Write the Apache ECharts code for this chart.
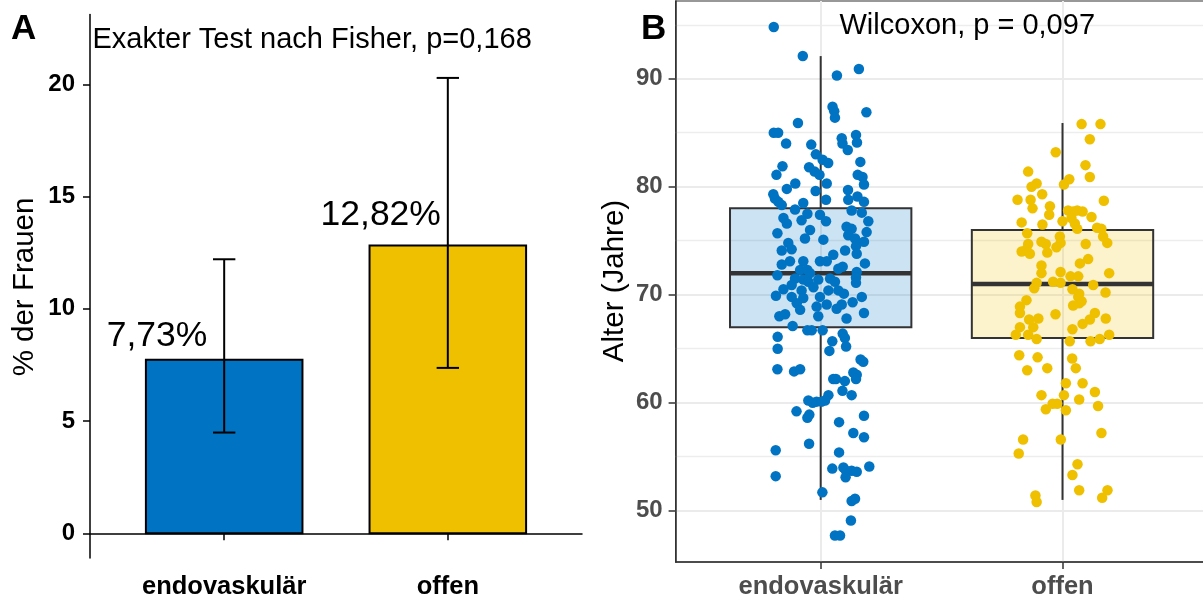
<!DOCTYPE html>
<html><head><meta charset="utf-8">
<script src="https://cdn.jsdelivr.net/npm/echarts@6/dist/echarts.min.js"></script>
<style>html,body{margin:0;padding:0;background:#fff}#c{width:1203px;height:595px}</style>
</head><body><div id="c"></div>
<script>
const categories = ['endovaskulär', 'offen'];
const femalePct = [7.73, 12.82];
const ciLow = [4.49, 7.37];
const ciHigh = [12.21, 20.29];
const pctTicks = [0, 5, 10, 15, 20];
const ageTicks = [50, 60, 70, 80, 90];
const ageMinorTicks = [45, 55, 65, 75, 85, 95];
// [lower whisker, Q1, median, Q3, upper whisker]
const boxStats = [[51.0, 67, 72, 78, 92.1], [51.0, 66, 71, 76, 85.9]];
// [horizontal jitter, age]
const endoPoints = [
[-0.194,94.8],[-0.074,92.1],[0.158,90.9],[0.067,90.3],[0.049,87.4],[0.056,87.0],[0.059,86.4],[0.189,86.9],
[-0.094,85.9],[-0.194,85.0],[-0.176,85.0],[-0.143,84.0],[-0.039,83.9],[0.087,84.5],[0.09,84.0],[0.112,83.4],
[0.146,84.8],[0.15,84.1],[-0.02,83.0],[0.008,82.5],[0.031,82.2],[0.164,82.3],[-0.158,81.9],[-0.183,81.1],
[-0.048,81.8],[-0.025,81.4],[-0.005,81.1],[0.153,81.1],[0.173,80.9],[0.179,80.2],[-0.105,80.3],[-0.14,79.8],
[0.025,80.3],[-0.021,79.6],[0.113,79.7],[-0.196,79.3],[-0.189,78.9],[-0.175,78.6],[-0.161,78.3],[0.022,78.8],
[0.114,78.8],[0.152,79.1],[0.179,78.6],[-0.072,78.5],[-0.106,77.9],[-0.055,77.5],[-0.079,76.9],[-0.003,77.4],
[0.022,76.8],[-0.154,77.1],[-0.14,76.6],[0.128,77.8],[0.17,77.6],[0.197,76.8],[0.107,76.3],[0.128,76.1],
[0.19,75.8],[-0.179,75.7],[-0.044,76.0],[-0.065,75.2],[0.011,75.1],[0.114,75.5],[0.142,75.2],[0.179,74.9],
[-0.134,74.8],[-0.161,74.1],[-0.12,74.2],[0.146,74.5],[0.101,74.1],[0.149,73.8],[0.052,73.7],[-0.003,73.1],
[0.025,73.1],[-0.161,72.8],[-0.127,73.1],[-0.072,73.1],[0.183,72.9],[0.073,72.4],[0.091,72.6],[-0.085,72.3],
[-0.055,72.3],[-0.044,72.0],[-0.179,71.8],[0.149,72.1],[0.146,71.6],[-0.106,71.5],[-0.072,71.4],[-0.051,71.2],
[-0.01,71.4],[0.039,71.5],[0.059,71.2],[-0.12,70.9],[-0.154,70.5],[-0.079,70.4],[-0.03,70.7],[0.032,70.4],
[0.073,70.4],[0.146,71.1],[-0.185,69.9],[-0.12,69.8],[-0.072,69.7],[-0.003,69.8],[0.096,70.1],[0.17,69.8],
[-0.099,69.2],[-0.017,68.9],[0.025,69.1],[0.066,68.7],[0.087,69.1],[0.132,69.3],[-0.085,68.6],[-0.01,68.0],
[-0.171,68.0],[-0.147,68.2],[0.107,67.8],[0.179,68.3],[-0.116,67.1],[-0.178,66.1],[-0.178,65.0],[-0.055,66.7],
[-0.037,66.7],[0.008,66.7],[0.048,65.7],[0.036,64.8],[0.091,66.4],[0.1,66.0],[0.105,65.2],[0.165,64.0],
[0.176,63.8],[-0.179,63.1],[-0.11,62.9],[-0.085,63.1],[0.052,62.2],[0.063,62.2],[0.1,62.0],[0.135,62.8],
[0.149,62.6],[0.146,62.2],[0.09,61.1],[0.128,60.7],[0.032,60.7],[-0.051,60.2],[-0.033,60.0],[-0.017,60.1],
[0.004,60.1],[0.018,60.2],[-0.1,59.2],[-0.047,58.9],[-0.055,58.6],[0.076,58.2],[0.179,58.8],[0.135,57.2],
[0.179,56.8],[-0.048,56.2],[-0.186,55.6],[0.076,55.4],[0.201,54.1],[0.048,53.9],[0.094,54.0],[0.105,53.7],
[0.128,53.7],[0.149,53.6],[0.103,53.1],[-0.186,53.2],[0.007,51.7],[0.128,50.9],[0.142,51.1],[0.125,49.1],
[0.059,47.7],[0.08,47.7]
];
const offenPoints = [
[0.079,85.8],[0.157,85.8],[0.113,84.4],[-0.028,83.2],[-0.142,81.4],[0.095,82.0],[0.113,80.9],[-0.107,80.3],
[-0.128,80.0],[0.028,80.7],[0.006,80.2],[-0.186,78.8],[-0.132,78.8],[-0.124,78.0],[-0.084,79.3],[-0.052,78.2],
[-0.055,77.4],[0.171,78.7],[0.023,77.8],[0.044,77.7],[0.061,77.8],[0.083,77.7],[0.037,77.1],[0.051,76.6],
[0.061,76.1],[0.0,76.8],[0.12,77.2],[-0.169,76.7],[-0.083,76.5],[-0.146,75.7],[0.143,76.2],[0.161,76.1],
[0.168,75.4],[0.185,74.8],[-0.011,75.4],[0.096,74.7],[-0.087,74.9],[-0.069,74.7],[-0.142,74.7],[-0.169,74.0],
[-0.135,73.8],[-0.149,74.2],[-0.025,74.4],[-0.008,74.8],[-0.063,73.9],[0.106,73.3],[0.072,72.9],[-0.087,72.7],
[-0.087,72.0],[-0.008,72.1],[0.033,71.7],[0.065,71.7],[0.193,72.0],[-0.107,71.1],[-0.117,70.6],[-0.039,71.2],
[-0.008,71.1],[0.127,70.9],[0.041,70.5],[0.069,70.1],[0.178,70.2],[-0.149,69.5],[0.065,69.8],[0.079,69.4],
[-0.176,68.9],[-0.176,68.3],[0.044,69.0],[0.069,69.2],[-0.029,68.2],[-0.1,67.8],[-0.138,67.7],[0.134,68.3],
[0.113,67.7],[0.083,67.3],[0.179,67.8],[-0.176,67.0],[-0.121,67.0],[-0.193,66.3],[-0.142,66.3],[-0.107,65.9],
[0.041,66.8],[0.03,65.7],[0.116,65.7],[0.154,65.9],[0.193,66.3],[-0.179,64.4],[-0.103,64.2],[0.04,64.1],
[-0.146,63.0],[-0.063,63.2],[0.055,63.2],[0.014,61.8],[0.083,61.8],[-0.087,60.7],[0.006,60.7],[0.069,60.3],
[0.134,61.0],[-0.041,59.9],[-0.022,59.9],[-0.069,59.4],[0.014,59.3],[0.147,59.7],[0.161,57.2],[-0.163,56.6],
[-0.007,56.6],[-0.181,55.3],[0.062,54.3],[0.041,53.3],[0.069,51.9],[0.186,51.9],[0.164,51.2],[-0.112,51.4],
[-0.107,50.8]
];
const colors = ['#0073C2', '#EFC000'];
const boxFills = ['rgba(0,115,194,0.2)', 'rgba(239,192,0,0.2)'];
const FONT = '"Liberation Sans", Arial, Helvetica, sans-serif';

const chart = echarts.init(document.getElementById('c'), null, {renderer: 'canvas'});

function catLabel(v) { return categories[Math.round(v) - 1] || ''; }

const option = {
  animation: false,
  backgroundColor: '#ffffff',
  grid: [
    {left: 90, top: 14.4, width: 492, height: 543.6, show: false, containLabel: false, outerBoundsMode: 'none'},
    {left: 675.6, top: 1, width: 532, height: 561, show: true, borderColor: '#333333', borderWidth: 1.2, backgroundColor: 'transparent', containLabel: false, outerBoundsMode: 'none'}
  ],
  xAxis: [
    {gridIndex: 0, type: 'value', min: 0.4, max: 2.6,
     axisLine: {show: true, lineStyle: {color: '#000', width: 1.5}},
     axisTick: {show: true, customValues: [1, 2], length: 7, lineStyle: {color: '#000', width: 1.5}},
     axisLabel: {customValues: [1, 2], formatter: catLabel, color: '#000', fontWeight: 'bold', fontSize: 25.5, fontFamily: FONT, margin: 16},
     splitLine: {show: false}},
    {gridIndex: 1, type: 'value', min: 0.4, max: 2.6,
     axisLine: {show: true, lineStyle: {color: '#333', width: 1.5}},
     axisTick: {show: true, customValues: [1, 2], length: 7, lineStyle: {color: '#333', width: 1.5}},
     axisLabel: {customValues: [1, 2], formatter: catLabel, color: '#4D4D4D', fontWeight: 'bold', fontSize: 25.5, fontFamily: FONT, margin: 12},
     splitLine: {show: true, lineStyle: {color: '#EBEBEB', width: 2}}}
  ],
  yAxis: [
    {gridIndex: 0, type: 'value', min: -1.1, max: 23.12,
     axisLine: {show: true, lineStyle: {color: '#000', width: 1.5}},
     axisTick: {show: true, customValues: pctTicks, length: 7, lineStyle: {color: '#000', width: 1.5}},
     axisLabel: {customValues: pctTicks, color: '#000', fontWeight: 'bold', fontSize: 24, fontFamily: FONT, margin: 15},
     splitLine: {show: false}},
    {gridIndex: 1, type: 'value', min: 45.25, max: 97.2, position: 'left',
     axisLine: {show: true, lineStyle: {color: '#333', width: 1.5}},
     axisTick: {show: true, customValues: ageTicks, length: 7, lineStyle: {color: '#333', width: 1.5}},
     axisLabel: {customValues: ageTicks, color: '#4D4D4D', fontWeight: 'bold', fontSize: 24, fontFamily: FONT, margin: 13},
     splitLine: {show: true, lineStyle: {color: '#EBEBEB', width: 2}}},
    {gridIndex: 1, type: 'value', min: 45.25, max: 97.2, position: 'right',
     axisLine: {show: false}, axisTick: {show: false, customValues: ageMinorTicks},
     axisLabel: {show: false, customValues: ageMinorTicks},
     splitLine: {show: true, lineStyle: {color: '#EDEDED', width: 1.3}}}
  ],
  series: [
    {
      type: 'custom', xAxisIndex: 0, yAxisIndex: 0, silent: true, z: 3,
      data: categories.map((c, i) => [i + 1, femalePct[i], ciLow[i], ciHigh[i]]),
      renderItem: function (params, api) {
        const i = params.dataIndex;
        const x = api.value(0), v = api.value(1), lo = api.value(2), hi = api.value(3);
        const p0 = api.coord([x - 0.35, v]);
        const p1 = api.coord([x + 0.35, 0]);
        const eLo = api.coord([x, lo]), eHi = api.coord([x, hi]);
        const cL = api.coord([x - 0.05, lo]), cR = api.coord([x + 0.05, lo]);
        const hL = api.coord([x - 0.05, hi]), hR = api.coord([x + 0.05, hi]);
        const lp = api.coord([x - 0.3, v * 1.065]);
        const ls = {stroke: '#000', lineWidth: 2};
        return {type: 'group', children: [
          {type: 'rect', shape: {x: p0[0], y: p0[1], width: p1[0] - p0[0], height: p1[1] - p0[1]},
           style: {fill: colors[i], stroke: '#000', lineWidth: 2}},
          {type: 'line', shape: {x1: eLo[0], y1: eLo[1], x2: eHi[0], y2: eHi[1]}, style: ls},
          {type: 'line', shape: {x1: cL[0], y1: cL[1], x2: cR[0], y2: cR[1]}, style: ls},
          {type: 'line', shape: {x1: hL[0], y1: hL[1], x2: hR[0], y2: hR[1]}, style: ls},
          {type: 'text', x: lp[0], y: lp[1] - 12,
           style: {text: v.toFixed(2).replace('.', ',') + '%', font: '35.5px ' + FONT, fill: '#000', align: 'center', verticalAlign: 'middle'}}
        ]};
      }
    },
    {
      type: 'custom', xAxisIndex: 1, yAxisIndex: 1, silent: true, z: 3,
      data: categories.map((c, i) => [i + 1].concat(boxStats[i])),
      renderItem: function (params, api) {
        const i = params.dataIndex;
        const x = api.value(0);
        const mn = api.value(1), q1 = api.value(2), md = api.value(3), q3 = api.value(4), mx = api.value(5);
        const hw = 0.375;
        const a = api.coord([x - hw, q3]), b = api.coord([x + hw, q1]);
        const m0 = api.coord([x - hw, md]), m1 = api.coord([x + hw, md]);
        const wTop0 = api.coord([x, q3]), wTop1 = api.coord([x, mx]);
        const wBot0 = api.coord([x, q1]), wBot1 = api.coord([x, mn]);
        const ls = {stroke: '#333333', lineWidth: 2};
        return {type: 'group', children: [
          {type: 'line', shape: {x1: wTop0[0], y1: wTop0[1], x2: wTop1[0], y2: wTop1[1]}, style: ls},
          {type: 'line', shape: {x1: wBot0[0], y1: wBot0[1], x2: wBot1[0], y2: wBot1[1]}, style: ls},
          {type: 'rect', shape: {x: a[0], y: a[1], width: b[0] - a[0], height: b[1] - a[1]},
           style: {fill: boxFills[i], stroke: '#333333', lineWidth: 2}},
          {type: 'line', shape: {x1: m0[0], y1: m0[1], x2: m1[0], y2: m1[1]}, style: {stroke: '#333333', lineWidth: 4.5}}
        ]};
      }
    },
    {
      type: 'scatter', xAxisIndex: 1, yAxisIndex: 1, silent: true, z: 4,
      symbol: 'circle', symbolSize: 10.5, itemStyle: {color: colors[0], opacity: 1},
      data: endoPoints.map(p => [1 + p[0], p[1]])
    },
    {
      type: 'scatter', xAxisIndex: 1, yAxisIndex: 1, silent: true, z: 4,
      symbol: 'circle', symbolSize: 10.5, itemStyle: {color: colors[1], opacity: 1},
      data: offenPoints.map(p => [2 + p[0], p[1]])
    }
  ],
  graphic: [
    {type: 'text', z: 100, x: 11, y: 29.5, style: {text: 'A', font: 'bold 35px ' + FONT, fill: '#000', align: 'left', verticalAlign: 'middle'}},
    {type: 'text', z: 100, x: 641, y: 29.5, style: {text: 'B', font: 'bold 35px ' + FONT, fill: '#000', align: 'left', verticalAlign: 'middle'}},
    {type: 'text', z: 100, x: 92.5, y: 40, style: {text: 'Exakter Test nach Fisher, p=0,168', font: '29px ' + FONT, fill: '#000', align: 'left', verticalAlign: 'middle'}},
    {type: 'text', z: 100, x: 839.5, y: 25.6, style: {text: 'Wilcoxon, p = 0,097', font: '29px ' + FONT, fill: '#000', align: 'left', verticalAlign: 'middle'}},
    {type: 'text', z: 100, x: 24.7, y: 287, rotation: Math.PI / 2, style: {text: '% der Frauen', font: '29.5px ' + FONT, fill: '#000', align: 'center', verticalAlign: 'middle'}},
    {type: 'text', z: 100, x: 614.7, y: 281, rotation: Math.PI / 2, style: {text: 'Alter (Jahre)', font: '29.5px ' + FONT, fill: '#000', align: 'center', verticalAlign: 'middle'}}
  ]
};
chart.setOption(option);
</script>
</body></html>
